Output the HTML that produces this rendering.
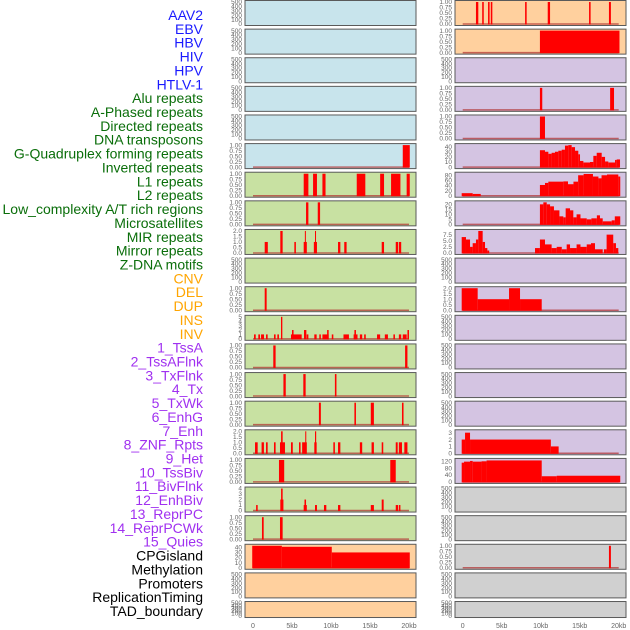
<!DOCTYPE html>
<html><head><meta charset="utf-8">
<style>
html,body{margin:0;padding:0;background:#fff;}
svg{display:block;font-family:"Liberation Sans",sans-serif;}
</style></head>
<body>
<svg id="chart" width="630" height="630" viewBox="0 0 630 630"></svg>
<script>
const labels=["AAV2","EBV","HBV","HIV","HPV","HTLV-1","Alu repeats","A-Phased repeats","Directed repeats","DNA transposons","G-Quadruplex forming repeats","Inverted repeats","L1 repeats","L2 repeats","Low_complexity A/T rich regions","Microsatellites","MIR repeats","Mirror repeats","Z-DNA motifs","CNV","DEL","DUP","INS","INV","1_TssA","2_TssAFlnk","3_TxFlnk","4_Tx","5_TxWk","6_EnhG","7_Enh","8_ZNF_Rpts","9_Het","10_TssBiv","11_BivFlnk","12_EnhBiv","13_ReprPC","14_ReprPCWk","15_Quies","CPGisland","Methylation","Promoters","ReplicationTiming","TAD_boundary"];
const labelGroups=[6,13,5,15,5];
const groupColors=["#1a1aff","#0a6e0a","#ffa500","#a030f0","#000000"];
const xTicks=[0,5,10,15,20];
const xTickLabels=["0","5kb","10kb","15kb","20kb"];
const tickSets={
 e:{max:500,ticks:[0,100,200,300,400,500],lab:["0","100","200","300","400","500"]},
 p:{max:1,ticks:[0,0.25,0.5,0.75,1],lab:["0.00","0.25","0.50","0.75","1.00"]},
 t2:{max:2,ticks:[0,0.5,1,1.5,2],lab:["0.0","0.5","1.0","1.5","2.0"]},
 t5:{max:5,ticks:[0,1,2,3,4,5],lab:["0","1","2","3","4","5"]},
 t4:{max:4,ticks:[0,1,2,3,4],lab:["0","1","2","3","4"]},
 t3:{max:3.2,ticks:[0,1,2,3],lab:["0","1","2","3"]},
 t40:{max:43,ticks:[0,10,20,30,40],lab:["0","10","20","30","40"]},
 t80:{max:86,ticks:[0,20,40,60,80],lab:["0","20","40","60","80"]},
 t20:{max:22,ticks:[0,5,10,15,20],lab:["0","5","10","15","20"]},
 t75:{max:9,ticks:[0,2.5,5,7.5],lab:["0.0","2.5","5.0","7.5"]},
 t120:{max:128,ticks:[0,40,80,120],lab:["0","40","80","120"]}
};
// bars: [startKb, endKb, value]
const L6=[[19.2,20.1,1]];
const L7=[[6.5,7.1,1],[7.7,8.2,1],[8.9,9.3,1],[13.3,14.4,1],[16.3,16.8,1],[17.7,18.9,1],[19.7,20.1,1]];
const L8=[[6.8,7.1,1],[8.3,8.6,1]];
const L9=[[1.5,1.9,1],[3.5,3.8,2],[5.3,5.5,1],[6.5,6.9,1],[6.65,6.75,2],[7.8,8.2,1],[7.95,8.05,2],[10.9,11.2,1],[11.7,12.0,1],[16.5,16.8,1],[18.3,18.6,1],[18.7,19.0,1]];
const L11=[[1.5,1.75,1]];
const L12=[[0.13,0.35,1],[0.68,0.9,1],[1.03,1.41,1],[1.67,1.88,1],[2.69,2.9,1],[3.12,3.33,1],[3.59,3.76,5],[4.87,6.24,1],[5.0,5.2,2],[6.54,6.84,2],[6.88,7.1,1],[7.86,8.16,1],[8.5,8.7,1],[8.9,9.7,1],[9.5,9.7,2],[10.1,10.3,1],[11.6,12.3,1],[12.9,13.4,1],[13.0,13.2,2],[13.7,14.0,1],[14.25,14.46,1],[15.9,16.3,1],[16.9,17.3,1],[18.0,18.2,1],[18.7,19.0,1],[19.2,19.7,1],[19.8,20.0,2]];
const L13=[[2.6,2.9,1],[19.5,19.8,1]];
const L14=[[3.9,4.2,1],[6.45,6.75,1],[10.5,10.7,1]];
const L15=[[8.45,8.7,1],[13.0,13.2,1],[15.1,15.5,1],[19.1,19.3,1]];
const L16=[[0.26,0.6,1],[1.1,1.4,1],[1.67,1.88,1],[2.69,2.9,1],[3.46,4.1,1],[3.6,3.8,2],[4.87,5.1,1],[5.9,6.1,1],[6.3,6.9,1],[6.7,6.8,2],[7.86,8.16,1],[7.95,8.1,2],[10.3,10.5,1],[10.9,11.2,1],[13.7,14.0,1],[15.2,15.5,1],[16.5,16.7,1],[18.3,18.55,1],[18.7,19.1,1],[19.4,19.8,1]];
const L17=[[3.33,4.0,1],[17.6,18.3,1]];
const L18=[[0.4,0.6,1],[3.5,3.9,2],[3.6,3.8,4],[6.6,6.8,2],[6.5,6.9,1],[7.95,8.2,1],[9.1,9.4,1],[10.9,11.2,1],[15.1,15.5,1],[16.5,16.75,2],[18.3,18.6,1],[18.7,18.9,1]];
const L19=[[1.15,1.37,1],[3.46,3.8,1]];
const L20=[[-0.1,3.7,43],[3.7,10.1,41],[10.1,20.1,30]];
const R1=[[1.7,2.0,1],[2.5,2.7,1],[3.25,3.45,1],[3.6,3.8,1],[8.0,8.2,1],[10.9,11.2,1],[16.2,16.4,1],[18.75,19.0,1]];
const R2=[[9.9,20.1,1]];
const R4=[[9.9,10.2,1],[18.9,19.4,1]];
const R5=[[9.9,10.55,1]];
const R6=[[9.9,10.55,33],[10.55,10.98,30],[10.98,11.4,26],[11.4,11.83,28],[11.83,12.26,30],[12.26,12.69,32],[12.69,13.11,34],[13.11,13.54,42],[13.54,13.97,43],[13.97,14.4,39],[14.4,14.82,32],[14.82,15.04,25],[15.04,15.47,12],[15.47,16.32,9],[16.32,16.75,10],[16.75,17.18,22],[17.18,17.82,28],[17.82,18.25,20],[18.25,18.67,11],[18.67,19.53,9],[19.53,19.74,14],[19.74,20.17,15]];
const R7=[[-0.13,1.28,10],[1.28,2.31,7],[9.9,10.55,42],[10.55,10.98,50],[10.98,12.9,55],[12.9,13.5,56],[13.5,14.2,45],[14.2,14.8,55],[14.8,15.5,80],[15.5,16.7,85],[16.7,17.4,75],[17.4,17.8,68],[17.8,18.5,80],[18.5,19.95,83],[19.95,20.2,75]];
const R8=[[9.9,10.34,20],[10.34,10.77,22],[10.77,11.2,20],[11.2,11.7,18],[11.7,12.4,14],[12.4,12.9,8],[12.9,13.2,7],[13.2,13.76,16],[13.76,14.18,14],[14.18,14.6,7],[14.6,15.1,10],[15.1,15.9,6],[15.9,16.5,5],[16.5,17.2,6],[17.2,17.6,9],[17.6,17.95,6],[17.95,19.1,3],[19.1,19.5,4],[19.5,20.2,8]];
const R9=[[-0.13,0.42,6.5],[0.42,0.94,5.5],[0.94,1.28,2.5],[1.28,1.7,4],[1.7,2.0,5.5],[2.0,2.56,9],[2.56,2.86,4.5],[2.86,3.16,2],[3.16,3.4,1],[9.27,9.9,2],[9.9,10.55,5.5],[10.55,11.4,3.5],[11.4,12.05,2],[12.05,12.7,2.5],[12.7,13.33,1.5],[13.33,13.76,3.5],[13.76,14.6,2],[14.6,15.1,3.5],[15.1,15.9,2.5],[15.9,16.45,3.5],[16.45,16.96,4],[16.96,17.95,1.5],[18.1,18.45,1.5],[18.45,19.3,7.5],[19.3,19.65,4],[19.65,19.95,2]];
const R11=[[-0.13,1.92,2],[1.92,5.94,1],[5.94,7.35,2],[7.35,10.13,1]];
const R16=[[-0.13,0.3,2],[0.3,0.94,3],[0.94,11.3,2],[11.3,12.3,1]];
const R17=[[-0.13,0.17,112],[0.17,0.94,118],[0.94,1.28,122],[1.28,2.42,118],[2.42,3.06,120],[3.06,10.13,125],[10.13,12.05,33],[12.05,20.2,36]];
const R20=[[18.75,19.0,1]];

const BLUE="#c8e4ec",GREEN="#c8e1a2",PEACH="#ffd09e",PURP="#d4c4e2",GREY="#d0d0d0";
const leftCol=[
 [BLUE,"e",null],[BLUE,"e",null],[BLUE,"e",null],[BLUE,"e",null],[BLUE,"e",null],[BLUE,"p",L6],
 [GREEN,"p",L7],[GREEN,"p",L8],[GREEN,"t2",L9],[GREEN,"e",null],[GREEN,"p",L11],[GREEN,"t5",L12],
 [GREEN,"p",L13],[GREEN,"p",L14],[GREEN,"p",L15],[GREEN,"t2",L16],[GREEN,"p",L17],[GREEN,"t4",L18],
 [GREEN,"p",L19],[PEACH,"t40",L20],[PEACH,"e",null],[PEACH,"e",null]];
const rightCol=[
 [PEACH,"p",R1],[PEACH,"p",R2],[PURP,"e",null],[PURP,"p",R4],[PURP,"p",R5],[PURP,"t40",R6],
 [PURP,"t80",R7],[PURP,"t20",R8],[PURP,"t75",R9],[PURP,"e",null],[PURP,"t2",R11],[PURP,"e",null],
 [PURP,"e",null],[PURP,"e",null],[PURP,"e",null],[PURP,"t3",R16],[PURP,"t120",R17],[GREY,"e",null],
 [GREY,"e",null],[GREY,"p",R20],[GREY,"e",null],[GREY,"e",null]];

const NS="http://www.w3.org/2000/svg";
const svg=document.getElementById('chart');
function mk(t,a,p){const e=document.createElementNS(NS,t);for(const k in a)e.setAttribute(k,a[k]);(p||svg).appendChild(e);return e;}

// labels
let li=0;
labelGroups.forEach((n,g)=>{for(let j=0;j<n;j++){const t=mk('text',{x:203,y:15+li*13.86+5,'text-anchor':'end','font-size':14,fill:groupColors[g]});t.textContent=labels[li];

li++;}});

const cols=[{x0:245,x1:416,zero:253,data:leftCol,name:'left'},{x0:455,x1:626,zero:462.7,data:rightCol,name:'right'}];
const KB=7.8;
cols.forEach(c=>{
 const xs=kb=>c.zero+kb*KB;
 c.data.forEach((row,i)=>{
  const top=i*28.62+0.5;
  const h=(i==21)?16:25;
  const bot=top+h;
  const g=mk('g',{});
  
  
  mk('rect',{x:c.x0,y:top,width:c.x1-c.x0,height:h,fill:row[0],stroke:'#5a5a5a','stroke-width':1},g);
  const ts=tickSets[row[1]];
  const y0=bot-1.5,y1=top+1.5;
  const ys=v=>y0-(v/ts.max)*(y0-y1);
  ts.ticks.forEach((v,k)=>{const t=mk('text',{x:c.x0-3,y:ys(v)+2.2,'text-anchor':'end','font-size':6.5,fill:'#666'},g);t.textContent=ts.lab[k];});
  if(row[2]){
   mk('line',{x1:xs(0),x2:xs(20),y1:y0,y2:y0,stroke:'#b03030','stroke-width':1.5,'stroke-opacity':0.7},g);
   row[2].forEach(b=>{const r=mk('rect',{x:xs(b[0]),y:ys(b[2]),width:Math.max(1,xs(b[1])-xs(b[0])),height:y0-ys(b[2])+0.5,fill:'#ff0000'},g);
    
    });
  }
 });
 xTicks.forEach((v,k)=>{const t=mk('text',{x:xs(v),y:628,'text-anchor':'middle','font-size':7,fill:'#666'});t.textContent=xTickLabels[k];
  
  });
});
</script>
</body></html>
